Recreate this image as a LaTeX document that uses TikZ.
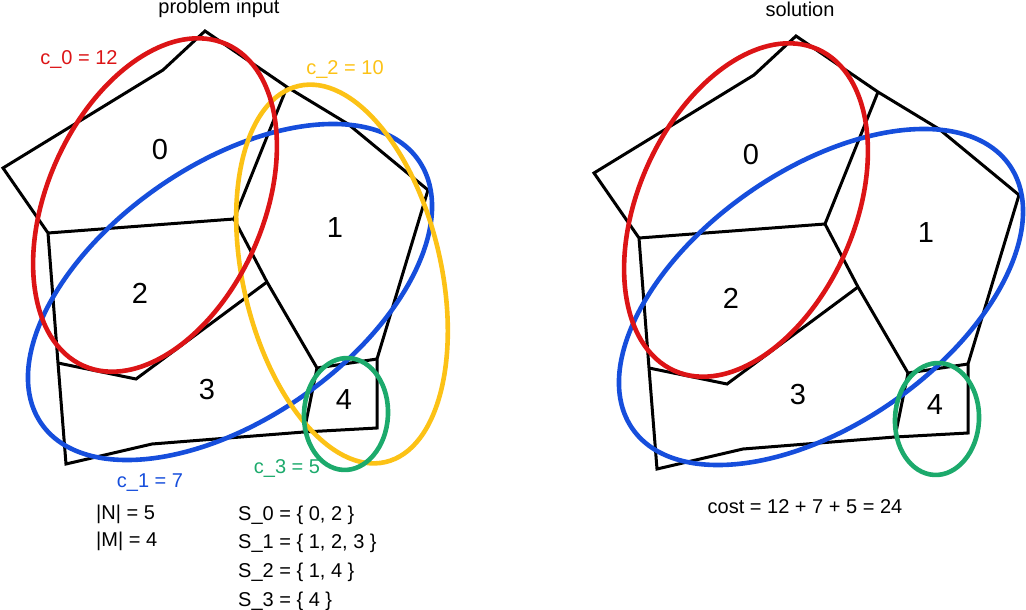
\documentclass[tikz,border=0pt]{standalone}
\usepackage{fontspec}
\setmainfont{Liberation Sans}
\usepackage{tikz}
\definecolor{setred}{RGB}{220,20,22}
\definecolor{setblue}{RGB}{22,78,220}
\definecolor{setyellow}{RGB}{252,194,22}
\definecolor{setgreen}{RGB}{28,170,108}

% the map with the five regions, drawn once per panel
\newcommand{\regionmap}{%
\coordinate (A) at (205,31);
\coordinate (B) at (163,70);
\coordinate (C) at (3,168);
\coordinate (D) at (48,233);
\coordinate (E) at (58,363);
\coordinate (F) at (66,464);
\coordinate (G) at (152,444);
\coordinate (H) at (304,432);
\coordinate (I) at (377,428);
\coordinate (J) at (377,359);
\coordinate (K) at (428,190);
\coordinate (L) at (348,124);
\coordinate (M) at (287,87);
\coordinate (O) at (234,219);
\coordinate (P) at (267,282);
\coordinate (Q) at (317,368);
\coordinate (R) at (136,379);
\draw[edge] (A) -- (B) -- (C) -- (D) -- (E) -- (F) -- (G) -- (H) -- (I) -- (J) -- (K) -- (L) -- (M) -- cycle;
\draw[edge] (D) -- (O) -- (M);
\draw[edge] (O) -- (P) -- (Q) -- (J);
\draw[edge] (P) -- (R) -- (E);
\draw[edge] (Q) -- (H);
\node[reg] (n0) at (160,150) {0};
\node[reg] (n1) at (335,228) {1};
\node[reg] (n2) at (140,293) {2};
\node[reg] (n3) at (207,390) {3};
\node[reg] (n4) at (344,400) {4};
}

\begin{document}
\begin{tikzpicture}[x=1pt,y=-1pt,
  edge/.style={black,line width=3pt},
  ring/.style={line width=4.6pt},
  reg/.style={font=\fontsize{29}{32}\selectfont},
  lbl/.style={font=\fontsize{20}{24}\selectfont,inner sep=0pt,anchor=base},
  lbll/.style={lbl,anchor=base west}]

\useasboundingbox (0,0) rectangle (1026,610);

% problem input
\regionmap
\draw[ring,setblue] (230,292) ellipse [x radius=230pt, y radius=127pt, rotate=35];
\draw[ring,setyellow] (342,274) ellipse [x radius=193pt, y radius=99pt, rotate=103];
\draw[ring,setred] (155,205) ellipse [x radius=176pt, y radius=108pt, rotate=66];
\draw[ring,setgreen] (346,414) ellipse [x radius=42pt, y radius=56pt, rotate=-3];

\node[lbl] (title1) at (219,14) {problem input};
\node[lbl,setred] (c0) at (79,65) {c\_0 = 12};
\node[lbl,setyellow] (c2) at (345,75) {c\_2 = 10};
\node[lbl,setblue] (c1) at (150,487) {c\_1 = 7};
\node[lbl,setgreen] (c3) at (287,473) {c\_3 = 5};

\node[lbll] (sizeN) at (96,519) {|N| = 5};
\node[lbll] (sizeM) at (96,546) {|M| = 4};
\node[lbll] (s0) at (238,520) {S\_0 = \{ 0, 2 \}};
\node[lbll] (s1) at (238,548) {S\_1 = \{ 1, 2, 3 \}};
\node[lbll] (s2) at (238,577) {S\_2 = \{ 1, 4 \}};
\node[lbll] (s3) at (238,606) {S\_3 = \{ 4 \}};

% solution
\begin{scope}[shift={(591,5)},name prefix=r-]
\regionmap
\draw[ring,setblue] (230,292) ellipse [x radius=230pt, y radius=127pt, rotate=35];
\draw[ring,setred] (155,205) ellipse [x radius=176pt, y radius=108pt, rotate=66];
\draw[ring,setgreen] (346,414) ellipse [x radius=42pt, y radius=56pt, rotate=-3];
\end{scope}

\node[lbl] (title2) at (800,17) {solution};
\node[lbl] (cost) at (805,513) {cost = 12 + 7 + 5 = 24};

\end{tikzpicture}
\end{document}
